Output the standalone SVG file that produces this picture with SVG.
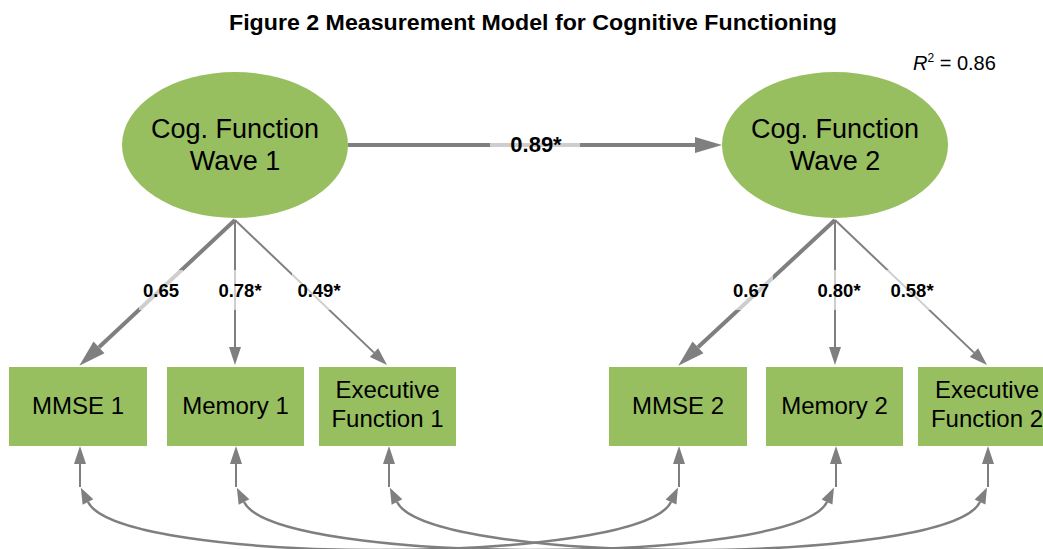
<svg xmlns="http://www.w3.org/2000/svg" width="1043" height="549" viewBox="0 0 1043 549">
  <style>
    .latent { fill: #97bf60; }
    .obs { fill: #97bf60; }
    .node-text { font-family: "Liberation Sans", Arial, sans-serif; fill: #000; text-anchor: middle; }
    .lat-text { font-size: 27px; }
    .obs-text { font-size: 24px; }
    .coef { font-family: "Liberation Sans", Arial, sans-serif; font-weight: bold; font-size: 18.5px; fill: #000; text-anchor: middle; }
    .coef-main { font-size: 22px; }
    .halo { fill: #ffffff; fill-opacity: 0.62; }
    .path-thick { stroke: #7f7f7f; stroke-width: 4; fill: none; }
    .path-thin { stroke: #7f7f7f; stroke-width: 2; fill: none; }
    .cov { stroke: #7f7f7f; stroke-width: 2.5; fill: none; }
  </style>
  <defs>
    <marker id="headBig" markerUnits="userSpaceOnUse" markerWidth="27" markerHeight="16" refX="0" refY="8" orient="auto" overflow="visible">
      <path d="M0,0 L27,8 L0,16 Z" fill="#7f7f7f"/>
    </marker>
    <marker id="headSmall" markerUnits="userSpaceOnUse" markerWidth="18" markerHeight="12" refX="0" refY="6" orient="auto" overflow="visible">
      <path d="M0,0 L18,6 L0,12 Z" fill="#7f7f7f"/>
    </marker>
    <marker id="headCov" markerUnits="userSpaceOnUse" markerWidth="16" markerHeight="12" refX="0" refY="6" orient="auto-start-reverse" overflow="visible">
      <path d="M0,0 L16,6 L0,12 Z" fill="#7f7f7f"/>
    </marker>
    <path id="covCurve" d="M88,502 C120,566 640,566 671,502"/>
  </defs>

  <rect width="1043" height="549" fill="#ffffff"/>

  <text x="533" y="30" font-family="Liberation Sans, Arial, sans-serif" font-weight="bold" font-size="22" text-anchor="middle" textLength="608" lengthAdjust="spacingAndGlyphs" fill="#000">Figure 2 Measurement Model for Cognitive Functioning</text>

  <text x="913" y="70" font-family="Liberation Sans, Arial, sans-serif" font-size="20" fill="#000"><tspan font-style="italic">R</tspan><tspan font-size="12" dy="-8">2</tspan><tspan dy="8"> = 0.86</tspan></text>

  <!-- connectors -->
  <g id="connectors">
    <!-- structural path -->
    <line class="path-thick" x1="348" y1="145" x2="695" y2="145" marker-end="url(#headBig)"/>
    <!-- loadings, wave 1 -->
    <line class="path-thick" x1="235" y1="220" x2="99" y2="347.3" marker-end="url(#headBig)"/>
    <line class="path-thin" x1="235" y1="220" x2="235" y2="347" marker-end="url(#headSmall)"/>
    <line class="path-thin" x1="235" y1="220" x2="374" y2="352.6" marker-end="url(#headSmall)"/>
    <!-- loadings, wave 2 -->
    <line class="path-thick" x1="835" y1="220" x2="698" y2="347.3" marker-end="url(#headBig)"/>
    <line class="path-thin" x1="835" y1="220" x2="835" y2="347" marker-end="url(#headSmall)"/>
    <line class="path-thin" x1="835" y1="220" x2="974" y2="352.6" marker-end="url(#headSmall)"/>
    <!-- residual terms -->
    <line class="path-thin" x1="80" y1="487" x2="80" y2="464" marker-end="url(#headSmall)"/>
    <line class="path-thin" x1="236" y1="487" x2="236" y2="464" marker-end="url(#headSmall)"/>
    <line class="path-thin" x1="389" y1="487" x2="389" y2="464" marker-end="url(#headSmall)"/>
    <line class="path-thin" x1="679" y1="487" x2="679" y2="464" marker-end="url(#headSmall)"/>
    <line class="path-thin" x1="836" y1="487" x2="836" y2="464" marker-end="url(#headSmall)"/>
    <line class="path-thin" x1="988" y1="487" x2="988" y2="464" marker-end="url(#headSmall)"/>
    <!-- residual covariances across waves -->
    <use href="#covCurve" class="cov" marker-start="url(#headCov)" marker-end="url(#headCov)"/>
    <use href="#covCurve" class="cov" transform="translate(156,0)" marker-start="url(#headCov)" marker-end="url(#headCov)"/>
    <use href="#covCurve" class="cov" transform="translate(309,0)" marker-start="url(#headCov)" marker-end="url(#headCov)"/>

    <!-- coefficient labels -->
    <rect class="halo" x="490" y="138" width="90" height="14"/>
    <text class="coef coef-main" x="536" y="152">0.89*</text>
    <rect class="halo" x="139" y="270" width="44" height="40"/>
    <text class="coef" x="161" y="297">0.65</text>
    <rect class="halo" x="214" y="270" width="52" height="40"/>
    <text class="coef" x="240" y="297">0.78*</text>
    <rect class="halo" x="292" y="270" width="54" height="40"/>
    <text class="coef" x="319" y="297">0.49*</text>
    <rect class="halo" x="729" y="270" width="44" height="40"/>
    <text class="coef" x="751" y="297">0.67</text>
    <rect class="halo" x="813" y="270" width="52" height="40"/>
    <text class="coef" x="839" y="297">0.80*</text>
    <rect class="halo" x="885" y="270" width="54" height="40"/>
    <text class="coef" x="912" y="297">0.58*</text>
  </g>

  <!-- latent factors -->
  <g id="cog1">
    <ellipse class="latent" cx="235" cy="145" rx="113" ry="73"/>
    <text class="node-text lat-text" x="235" y="138">Cog. Function</text>
    <text class="node-text lat-text" x="235" y="170">Wave 1</text>
  </g>
  <g id="cog2">
    <ellipse class="latent" cx="835" cy="145" rx="113" ry="73"/>
    <text class="node-text lat-text" x="835" y="138">Cog. Function</text>
    <text class="node-text lat-text" x="835" y="170">Wave 2</text>
  </g>

  <!-- observed indicators -->
  <g id="mmse1">
    <rect class="obs" x="9" y="367" width="138" height="79"/>
    <text class="node-text obs-text" x="78" y="414">MMSE 1</text>
  </g>
  <g id="memory1">
    <rect class="obs" x="167" y="367" width="137" height="79"/>
    <text class="node-text obs-text" x="235.5" y="414">Memory 1</text>
  </g>
  <g id="exec1">
    <rect class="obs" x="319" y="367" width="137" height="79"/>
    <text class="node-text obs-text" x="387.5" y="398">Executive</text>
    <text class="node-text obs-text" x="387.5" y="427">Function 1</text>
  </g>
  <g id="mmse2">
    <rect class="obs" x="609" y="367" width="138" height="79"/>
    <text class="node-text obs-text" x="678" y="414">MMSE 2</text>
  </g>
  <g id="memory2">
    <rect class="obs" x="766" y="367" width="137" height="79"/>
    <text class="node-text obs-text" x="834.5" y="414">Memory 2</text>
  </g>
  <g id="exec2">
    <rect class="obs" x="918" y="367" width="138" height="79"/>
    <text class="node-text obs-text" x="987" y="398">Executive</text>
    <text class="node-text obs-text" x="987" y="427">Function 2</text>
  </g>
</svg>
